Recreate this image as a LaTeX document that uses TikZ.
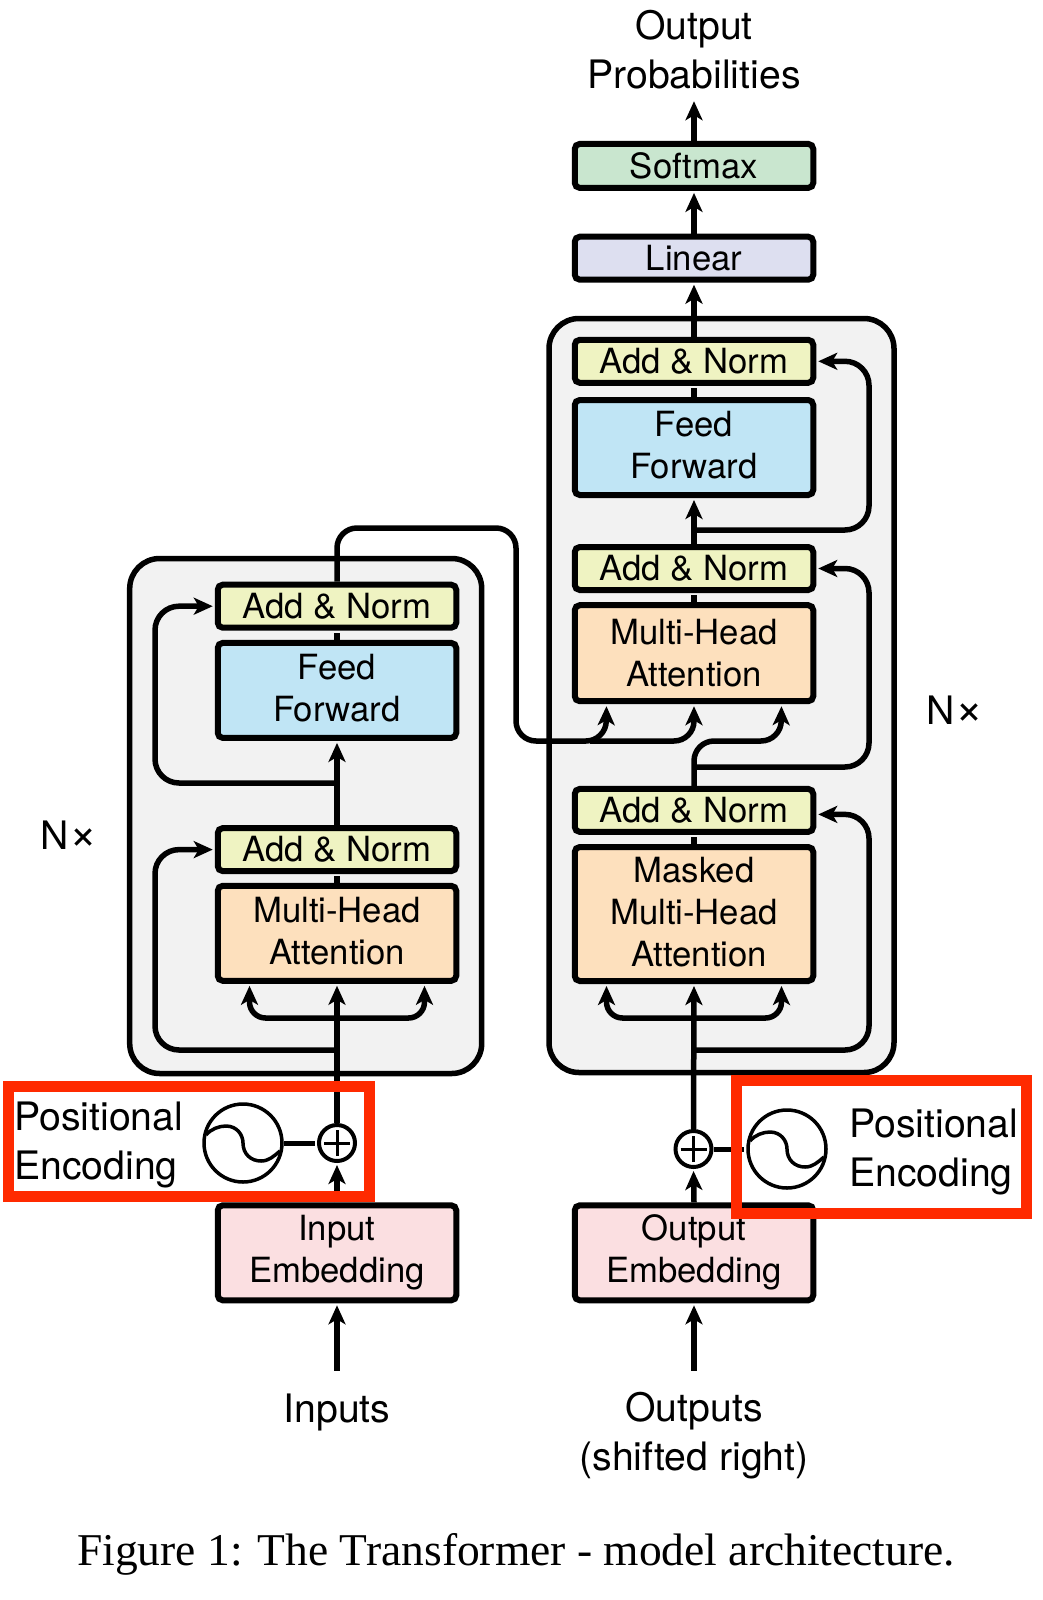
\documentclass[tikz,border=0pt]{standalone}
\usepackage{fontspec}
\setmainfont{TeX Gyre Heros}
\newfontfamily\capfont{Liberation Serif}
\usetikzlibrary{arrows.meta}
\definecolor{addcol}{HTML}{EFF3C2}
\definecolor{ffcol}{HTML}{C0E5F5}
\definecolor{attcol}{HTML}{FDE0BD}
\definecolor{embcol}{HTML}{FBDFE1}
\definecolor{lincol}{HTML}{DDDFF0}
\definecolor{softcol}{HTML}{C9E6CF}
\definecolor{panelcol}{HTML}{F2F2F2}
\definecolor{redcol}{HTML}{FF2A00}
\tikzset{
    block/.style={draw, line width=6pt, rounded corners=5pt, minimum width=238.5pt, align=center, inner sep=0pt,
        font=\fontsize{34.7}{42}\selectfont},
    addnorm/.style={block, fill=addcol, minimum height=43pt},
    feedfwd/.style={block, fill=ffcol, minimum height=95pt},
    attn/.style={block, fill=attcol},
    embed/.style={block, fill=embcol, minimum height=95pt},
    panel/.style={draw, line width=5.5pt, fill=panelcol, rounded corners=30pt},
    redframe/.style={draw=redcol, line width=11pt},
    label/.style={align=center, inner sep=0pt, font=\fontsize{39.2}{49}\selectfont},
    plusnode/.style={circle, draw, fill=white, line width=4pt, minimum size=36pt, inner sep=0pt,
        path picture={
            \draw[line width=3pt] (path picture bounding box.center) ++(-13pt,0) -- ++(26pt,0);
            \draw[line width=3pt] (path picture bounding box.center) ++(0,-13pt) -- ++(0,26pt);
        }},
    sinenode/.style={circle, draw, fill=white, line width=3.5pt, minimum size=78pt, inner sep=0pt,
        path picture={
            \draw[line width=3.5pt] (path picture bounding box.center) ++(-37pt,8pt)
                .. controls +(5pt,6pt) and +(-7pt,0) .. ++(20pt,9pt)
                .. controls +(11pt,0) and +(0,8pt) .. ++(17pt,-17pt)
                .. controls +(0,-11pt) and +(-10pt,0) .. ++(18pt,-18pt)
                .. controls +(8pt,0) and +(-6pt,-5pt) .. ++(19pt,10pt);
        }},
    conn/.style={line width=5.5pt, shorten >=2pt},
}
\newcommand{\bigtimes}{{\fontsize{48}{49}\selectfont ×}}
\begin{document}
\begin{tikzpicture}[x=1pt, y=-1pt, >={Stealth[length=19pt,width=17pt,inset=5pt]}]
    \useasboundingbox (0,0) rectangle (1042,1600);
    % Grey panels
    \node[panel, minimum width=352pt, minimum height=515pt] (encpanel) at (305.7,816) {};
    \node[panel, minimum width=345pt, minimum height=754pt] (decpanel) at (721.5,695.5) {};
    % Left column
    \node[embed] (inembed) at (337,1252.8) {Input\\Embedding};
    \node[attn, minimum height=95pt] (encatt) at (337,933.3) {Multi-Head\\Attention\\[-37pt]};
    \node[addnorm] (encaddA) at (337,849.6) {Add \& Norm};
    \node[feedfwd] (encff) at (337,690.4) {Feed\\Forward\\[-37pt]};
    \node[addnorm] (encaddB) at (337,606.2) {Add \& Norm};
    % Right column
    \node[embed] (outembed) at (694,1252.8) {Output\\Embedding};
    \node[attn, minimum height=134pt] (decmask) at (694,914) {Masked\\Multi-Head\\\hspace*{10pt}Attention\\[-37pt]};
    \node[addnorm] (decaddA) at (694,810.4) {Add \& Norm};
    \node[attn, minimum height=96pt] (decatt) at (694,653.2) {Multi-Head\\Attention};
    \node[addnorm] (decaddB) at (694,568.5) {Add \& Norm};
    \node[feedfwd] (decff) at (694,447.5) {Feed\\Forward\\[-37pt]};
    \node[addnorm] (decaddC) at (694,361.3) {Add \& Norm};
    \node[block, fill=lincol, minimum height=43pt] (linear) at (694,258.2) {Linear};
    \node[block, fill=softcol, minimum height=44pt] (softmax) at (694,165.9) {Softmax};
    % Texts
    \node[label, minimum height=98pt] (outprob) at (694,50) {Output\\Probabilities};
    \node[label, minimum height=82pt] (inputs) at (337,1412) {Inputs};
    \node[label, minimum height=130pt] (outputs) at (694,1436) {Outputs\\(shifted right)};
    \node[label] (nleft) at (69,835) {N\bigtimes};
    \node[label] (nright) at (955,710) {N\bigtimes};
    \node[label, align=left, anchor=west] (posleft) at (14,1145) {Positional\\Encoding};
    \node[label, align=left, anchor=west] (posright) at (849,1152) {Positional\\Encoding};
    \node[inner sep=0pt, font=\capfont\fontsize{45.5}{50}\selectfont] (caption) at (516,1554) {Figure 1: The Transformer - model architecture.};
    % Adders and sine circles
    \node[plusnode] (plusL) at (337,1143) {};
    \node[plusnode] (plusR) at (693.5,1149) {};
    \node[sinenode] (sineL) at (243,1143) {};
    \node[sinenode] (sineR) at (787,1149) {};
    % Branch points
    \coordinate (splitL) at (337,1018);
    \coordinate (splitR) at (694,1018);
    \coordinate (resLA) at (337,1050);
    \coordinate (resLB) at (337,783);
    \coordinate (resRA) at (694,1050);
    \coordinate (resRB) at (694,767);
    \coordinate (resRC) at (694,530);
    \coordinate (bendR) at (694,741);
    \coordinate (crossA) at (590,741);
    % Left connectors
    \draw[conn, ->] (inputs.north) -- (inembed.south);
    \draw[conn, ->] (inembed.north) -- (plusL.south);
    \draw[conn, ->] (plusL.north) -- (encatt.south);
    \draw[conn, ->, rounded corners=16pt] (splitL) -| ([xshift=-87.5pt]encatt.south);
    \draw[conn, ->, rounded corners=16pt] (splitL) -| ([xshift=87.5pt]encatt.south);
    \draw[conn, ->, rounded corners=24pt] (resLA) -- (155,1050) |- (encaddA.west);
    \draw[conn, ->, rounded corners=24pt] (resLB) -- (155,783) |- (encaddB.west);
    \draw[conn] (encatt.north) -- (encaddA.south);
    \draw[conn, ->] (encaddA.north) -- (encff.south);
    \draw[conn] (encff.north) -- (encaddB.south);
    \draw[conn, line width=5pt] (sineL.east) -- (plusL.west);
    % Right connectors
    \draw[conn, ->] (outputs.north) -- (outembed.south);
    \draw[conn, ->] (outembed.north) -- (plusR.south);
    \draw[conn, ->] (plusR.north) -- (decmask.south);
    \draw[conn, ->, rounded corners=16pt] (splitR) -| ([xshift=-87.5pt]decmask.south);
    \draw[conn, ->, rounded corners=16pt] (splitR) -| ([xshift=87.5pt]decmask.south);
    \draw[conn, ->, rounded corners=24pt] (resRA) -- (869,1050) |- ([yshift=-4pt]decaddA.east);
    \draw[conn, ->, rounded corners=24pt] (resRB) -- (869,767) |- (decaddB.east);
    \draw[conn, ->, rounded corners=24pt] (resRC) -- (869,530) |- (decaddC.east);
    \draw[conn] (decmask.north) -- (decaddA.south);
    \draw[conn, ->, rounded corners=20pt] (decaddA.north) -- (bendR) -- (781,741) -- ([xshift=87.5pt]decatt.south);
    % Encoder output into the attention block
    \draw[conn, ->, rounded corners=20pt] (encaddB.north) -- (337,528) -- (516,528) -- (516,741) -- (606,741) -- ([xshift=-87.5pt]decatt.south);
    \draw[conn, ->, rounded corners=20pt] (crossA) -- (694,741) -- (decatt.south);
    \draw[conn] (decatt.north) -- (decaddB.south);
    \draw[conn, ->] (decaddB.north) -- (decff.south);
    \draw[conn] (decff.north) -- (decaddC.south);
    \draw[conn, ->] (decaddC.north) -- (linear.south);
    \draw[conn, ->] (linear.north) -- (softmax.south);
    \draw[conn, ->] (softmax.north) -- (outprob.south);
    \draw[conn, line width=5pt] (plusR.east) -- (sineR.west);
    % Red frames
    \node[redframe, minimum width=361pt, minimum height=110pt] (redL) at (188.5,1141) {};
    \node[redframe, minimum width=290pt, minimum height=133pt] (redR) at (881,1146.5) {};
\end{tikzpicture}
\end{document}
